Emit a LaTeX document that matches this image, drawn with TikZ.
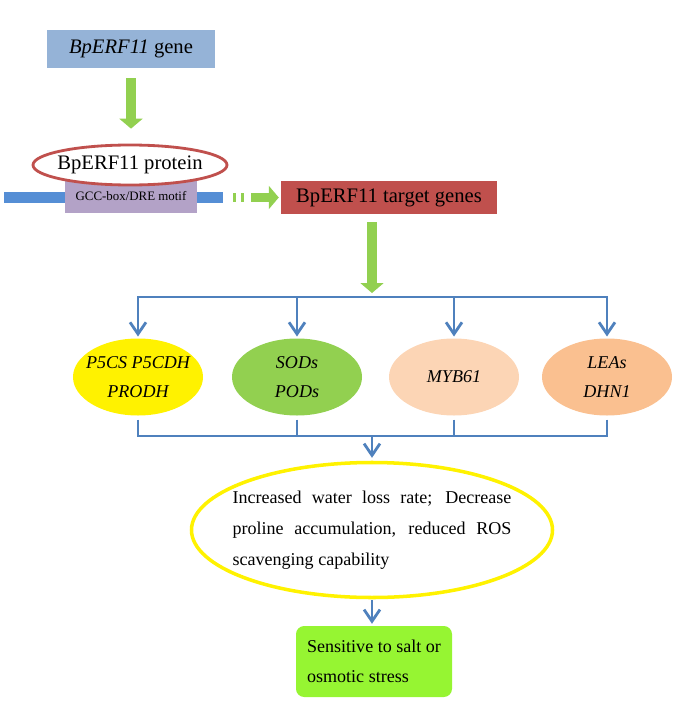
\documentclass[tikz,border=0pt]{standalone}
\usepackage{fontspec}
\setmainfont{Liberation Serif}
\usepackage{xcolor}
\usepackage{tikz}
\usetikzlibrary{shapes.geometric, arrows.meta, positioning}
\definecolor{genefill}{RGB}{149,179,215}
\definecolor{leafgreen}{RGB}{146,208,80}
\definecolor{brickred}{RGB}{192,80,77}
\definecolor{dnablue}{RGB}{85,142,213}
\definecolor{motiflilac}{RGB}{179,162,199}
\definecolor{linkblue}{RGB}{79,129,189}
\definecolor{peach}{RGB}{252,213,181}
\definecolor{apricot}{RGB}{250,192,144}
\definecolor{lime}{RGB}{150,245,50}
\newcommand{\bigtxt}{\fontsize{17.6}{21}\selectfont}
\newcommand{\midtxt}{\fontsize{15.4}{24.7}\selectfont}
\tikzstyle{box} = [rectangle, inner sep=0pt, text centered]
\tikzstyle{oval} = [ellipse, inner sep=0pt]
\tikzstyle{fatarrow} = [line width=8.5pt, leafgreen, -{Triangle[length=8.5pt, width=19.5pt]}]
\tikzstyle{link} = [line width=2.4pt, linkblue]
\tikzstyle{linkarrow} = [link, -{Straight Barb[length=10pt, width=13.6pt]}]

\begin{document}
\begin{tikzpicture}[x=0.03cm, y=-0.03cm]
    \useasboundingbox (0,0) rectangle (675,705);

    % Gene
    \node[box, fill=genefill, minimum width=5.04cm, minimum height=1.14cm, font=\bigtxt] (gene) at (131,49) {\textit{BpERF11} gene};

    % DNA strand with binding motif
    \node[box, fill=dnablue, minimum width=6.57cm, minimum height=0.33cm] (dna) at (113.5,197.5) {};
    \node[box, fill=motiflilac, minimum width=3.96cm, minimum height=0.99cm, font=\fontsize{11}{13}\selectfont] (motif) at (131,196.5) {GCC-box/DRE motif};

    % Protein
    \node[oval, draw=brickred, line width=2.4pt, fill=white, minimum width=5.82cm, minimum height=1.2cm,
          label={[font=\bigtxt]center:BpERF11 protein}] (protein) at (130,165) {};

    % Target genes
    \node[box, fill=brickred, minimum width=6.48cm, minimum height=0.99cm, font=\bigtxt] (target) at (389,197.5) {BpERF11 target genes};

    % Downstream genes
    \node[oval, fill=yellow, minimum width=3.9cm, minimum height=2.31cm,
          label={[font=\midtxt\itshape, align=center]center:{P5CS P5CDH\\PRODH}}] (p5cs) at (138,377) {};
    \node[oval, fill=leafgreen, minimum width=3.9cm, minimum height=2.31cm,
          label={[font=\midtxt\itshape, align=center]center:{SODs\\PODs}}] (sods) at (297,377) {};
    \node[oval, fill=peach, minimum width=3.9cm, minimum height=2.31cm,
          label={[font=\midtxt\itshape]center:MYB61}] (myb) at (454,377) {};
    \node[oval, fill=apricot, minimum width=3.9cm, minimum height=2.31cm,
          label={[font=\midtxt\itshape, align=center]center:{LEAs\\DHN1}}] (leas) at (607,377) {};

    % Physiological result
    \node[oval, draw=yellow, line width=3pt, minimum width=10.83cm, minimum height=4.05cm,
          label={[text width=238pt, align=justify, font=\fontsize{15.4}{26.4}\selectfont]center:{Increased water loss rate; Decrease\linebreak proline accumulation, reduced ROS\linebreak scavenging capability}}] (result) at (372,530) {};

    % Phenotype
    \node[box, fill=lime, rounded corners=7pt, minimum width=4.68cm, minimum height=2.13cm, align=left,
          font=\fontsize{15.4}{25.5}\selectfont] (outcome) at (374,661.5) {Sensitive to salt or\\osmotic stress};

    % Green arrows
    \draw[fatarrow, shorten <=8.5pt, shorten >=12.75pt] (gene.south) -- (gene.south |- protein.north);
    \draw[fatarrow, dash pattern=on 2.55pt off 4.25pt on 2.55pt off 5.95pt on 40pt off 1pt,
          shorten <=8.5pt, shorten >=1.7pt] (dna.east) -- (target.west);
    \coordinate (split) at (372,297);
    \draw[fatarrow, shorten <=6.8pt, shorten >=3.4pt] (split |- target.south) -- (split);

    % Blue connectors
    \foreach \g in {p5cs, sods, myb, leas}
        \draw[linkarrow, shorten >=1.5pt] (split) -| (\g.north);
    \coordinate (merge) at (372,436);
    \foreach \g in {p5cs, sods, myb, leas}
        \draw[link, shorten <=3.4pt] (\g.south) |- (merge);
    \draw[linkarrow, shorten >=2.5pt] (merge) -- (result.north);
    \draw[linkarrow, shorten <=1pt, shorten >=1.7pt] (result.south) -- (result.south |- outcome.north);
\end{tikzpicture}
\end{document}
